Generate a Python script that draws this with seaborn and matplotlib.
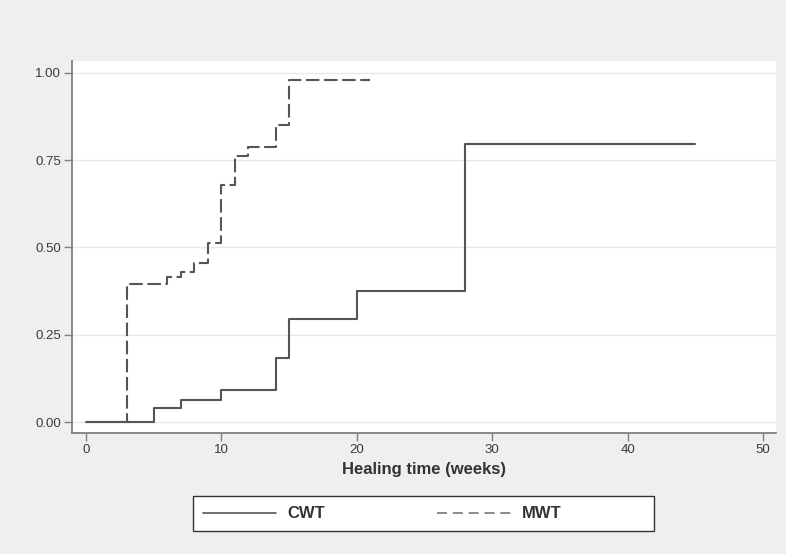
import pandas as pd
import numpy as np
import matplotlib
matplotlib.use("Agg")
import matplotlib.pyplot as plt
import seaborn as sns

# Kaplan-Meier failure estimates
cwt_time = [0, 5, 7, 10, 14, 15, 20, 28, 45]
cwt_fail = [0.0, 0.04, 0.063, 0.092, 0.184, 0.296, 0.374, 0.796, 0.796]
mwt_time = [0, 3, 6, 7, 8, 9, 10, 11, 12, 14, 15, 21]
mwt_fail = [0.0, 0.395, 0.414, 0.431, 0.454, 0.514, 0.678, 0.761, 0.787, 0.851, 0.980, 0.980]

x_ticks = [0, 10, 20, 30, 40, 50]
y_ticks = [0.0, 0.25, 0.5, 0.75, 1.0]

df = pd.concat([
    pd.DataFrame({"time": cwt_time, "fail": cwt_fail, "group": "CWT"}),
    pd.DataFrame({"time": mwt_time, "fail": mwt_fail, "group": "MWT"}),
], ignore_index=True)

sns.set_style("white")
plt.rcParams["font.family"] = ["Liberation Sans", "DejaVu Sans"]

bg = "#efefef"
fig = plt.figure(figsize=(7.86, 5.54), dpi=100, facecolor=bg)
ax = fig.add_axes([72 / 786, 1 - 433 / 554, 704 / 786, 372 / 554])
ax.set_facecolor("white")

# light horizontal grid
for yv in y_ticks:
    ax.axhline(yv, color="#e8e8e8", lw=1, zorder=0)

sns.lineplot(data=df, x="time", y="fail", style="group",
             dashes={"CWT": "", "MWT": (6.5, 2.2)},
             color="#555555", lw=1.5, drawstyle="steps-post",
             estimator=None, sort=False, legend=False, ax=ax)

ax.set_xlim(-1.03, 50.96)
ax.set_ylim(-0.0315, 1.034)
ax.set_xticks(x_ticks)
ax.set_yticks(y_ticks)
ax.set_yticklabels([f"{v:.2f}" for v in y_ticks])

for side in ["top", "right"]:
    ax.spines[side].set_visible(False)
for side in ["left", "bottom"]:
    ax.spines[side].set_color("#808080")
    ax.spines[side].set_linewidth(1.3)

ax.tick_params(axis="both", direction="out", length=6, width=1,
               color="#808080", labelsize=9.5, labelcolor="#3a3a3a", pad=2,
               left=True, bottom=True)
ax.set_xlabel("Healing time (weeks)", fontsize=12, fontweight="bold",
              color="#333333", labelpad=4)
ax.set_ylabel("")

# legend box under the axis (frame drawn separately)
box = plt.Rectangle((193 / 786, 1 - 531 / 554), 461 / 786, 35 / 554,
                    transform=fig.transFigure, facecolor="white",
                    edgecolor="#333333", lw=1.0)
fig.patches.append(box)

handles = [
    plt.Line2D([], [], color="#555555", lw=1.2),
    plt.Line2D([], [], color="#777777", lw=1.2, dashes=(6, 3.5)),
]
leg = fig.legend(handles, ["CWT", "MWT"], ncol=2, frameon=False,
                 bbox_to_anchor=(203 / 786, 1 - 514 / 554),
                 loc="center left", handlelength=4.4, handletextpad=0.65,
                 columnspacing=6.75, borderaxespad=0, borderpad=0,
                 prop={"size": 12, "weight": "bold"})
for t in leg.get_texts():
    t.set_color("#333333")

fig.savefig("out.png", dpi=100, facecolor=bg)
